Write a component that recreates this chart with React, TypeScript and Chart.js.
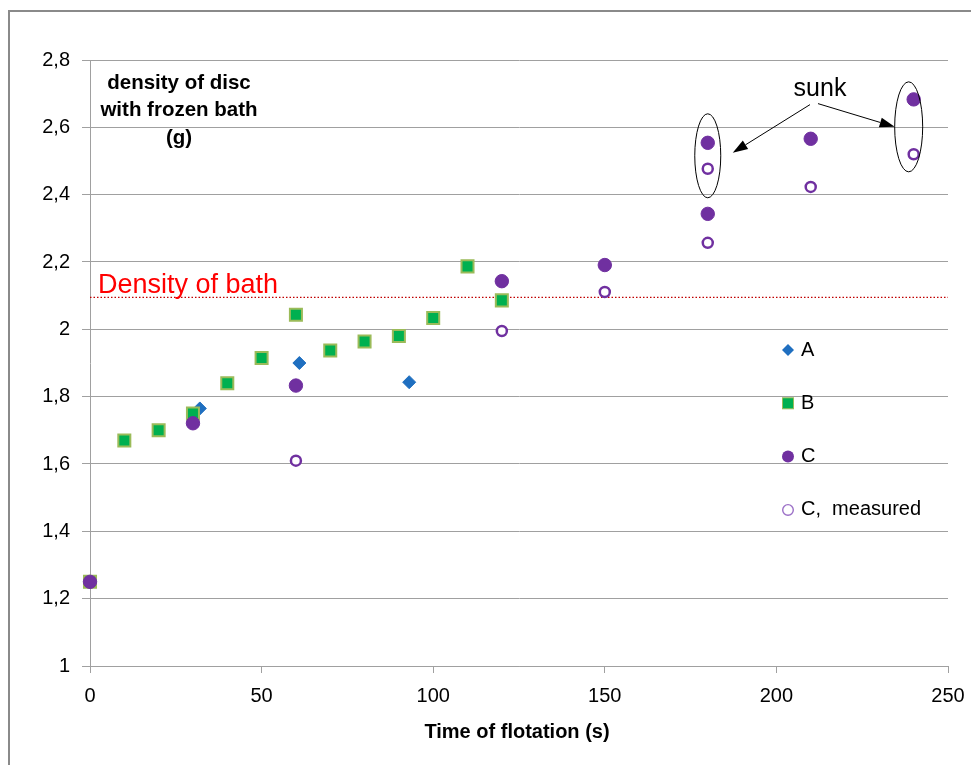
import React, { useEffect, useRef } from 'react';
import { Chart, registerables } from 'chart.js';

Chart.register(...registerables);

// ---- data ----
const timeA = [0, 32, 61, 93];
const densityA = [1.25, 1.765, 1.9, 1.843];

const timeB = [0, 10, 20, 30, 40, 50, 60, 70, 80, 90, 100, 110, 120];
const densityB = [1.25, 1.67, 1.7, 1.75, 1.84, 1.915, 2.043, 1.937, 1.964, 1.98, 2.034, 2.187, 2.086];

const timeC = [0, 30, 60, 120, 150, 180, 180, 210, 240];
const densityC = [1.25, 1.721, 1.833, 2.143, 2.191, 2.343, 2.554, 2.566, 2.683];

const timeCMeasured = [60, 120, 150, 180, 180, 210, 240];
const densityCMeasured = [1.61, 1.995, 2.111, 2.257, 2.477, 2.423, 2.52];

const bathDensity = 2.095;

const seriesLabels = ['A', 'B', 'C', 'C,  measured'];
const xTitle = 'Time of flotation (s)';
const yTitleLines = ['density of disc', 'with frozen bath', '(g)'];
const bathLabel = 'Density of bath';
const sunkLabel = 'sunk';
const sunkTimes = [180, 240];
const sunkLow = [2.477, 2.52];
const sunkHigh = [2.554, 2.683];
const sunkTextTime = 212.7;
const sunkTextDensity = 2.715;

const xMin = 0;
const xMax = 250;
const xStep = 50;
const yMin = 1;
const yMax = 2.8;
const yStep = 0.2;

const FONT = '"Liberation Sans", Arial, sans-serif';
const BLUE = '#1f6fc0';
const GREEN = '#00b050';
const OLIVE = '#9bbb59';
const PURPLE = '#7030a0';

function toPts(xs: number[], ys: number[]) {
  return xs.map((x, i) => ({ x, y: ys[i] }));
}

function drawArrow(ctx: CanvasRenderingContext2D, x1: number, y1: number, x2: number, y2: number) {
  const ang = Math.atan2(y2 - y1, x2 - x1);
  const len = 15;
  const hw = 5;
  const bx = x2 - len * Math.cos(ang);
  const by = y2 - len * Math.sin(ang);
  ctx.save();
  ctx.strokeStyle = '#000';
  ctx.fillStyle = '#000';
  ctx.lineWidth = 1;
  ctx.beginPath();
  ctx.moveTo(x1, y1);
  ctx.lineTo(bx, by);
  ctx.stroke();
  ctx.beginPath();
  ctx.moveTo(x2, y2);
  ctx.lineTo(bx + hw * Math.sin(ang), by - hw * Math.cos(ang));
  ctx.lineTo(bx - hw * Math.sin(ang), by + hw * Math.cos(ang));
  ctx.closePath();
  ctx.fill();
  ctx.restore();
}

const annotations = {
  id: 'annotations',
  beforeDraw(chart: any) {
    const ctx: CanvasRenderingContext2D = chart.ctx;
    ctx.save();
    ctx.fillStyle = '#ffffff';
    ctx.fillRect(0, 0, chart.width, chart.height);
    ctx.strokeStyle = '#8a8a8a';
    ctx.lineWidth = 2;
    ctx.beginPath();
    ctx.moveTo(9, chart.height + 5);
    ctx.lineTo(9, 11);
    ctx.lineTo(chart.width + 5, 11);
    ctx.stroke();
    ctx.restore();
  },
  beforeDatasetsDraw(chart: any) {
    const ctx: CanvasRenderingContext2D = chart.ctx;
    const { left, right } = chart.chartArea;
    const y = chart.scales.y.getPixelForValue(bathDensity);
    ctx.save();
    ctx.strokeStyle = '#c00000';
    ctx.lineWidth = 1.3;
    ctx.setLineDash([1.5, 2]);
    ctx.beginPath();
    ctx.moveTo(left, y);
    ctx.lineTo(right, y);
    ctx.stroke();
    ctx.restore();
  },
  afterDatasetsDraw(chart: any) {
    const ctx: CanvasRenderingContext2D = chart.ctx;
    const xs = chart.scales.x;
    const ys = chart.scales.y;
    const area = chart.chartArea;
    ctx.save();

    // bath label
    ctx.fillStyle = '#ff0000';
    ctx.font = `27px ${FONT}`;
    ctx.textAlign = 'left';
    ctx.textBaseline = 'alphabetic';
    ctx.fillText(bathLabel, area.left + 8, ys.getPixelForValue(bathDensity) - 4);

    // y title (inside plot)
    ctx.fillStyle = '#000';
    ctx.font = `bold 20.5px ${FONT}`;
    ctx.textAlign = 'center';
    ctx.textBaseline = 'middle';
    yTitleLines.forEach((t, i) => {
      ctx.fillText(t, area.left + 89, area.top + 23 + i * 27.5);
    });

    // x title
    ctx.font = `bold 20px ${FONT}`;
    ctx.fillText(xTitle, (area.left + area.right) / 2 - 2, 732);

    // sunk ellipses
    const ellR = [[13, 42], [14, 45]];
    const ellDx = [0, -5];
    const centers: { x: number; y: number }[] = [];
    sunkTimes.forEach((t, i) => {
      const cx = xs.getPixelForValue(t) + ellDx[i];
      const cy = (ys.getPixelForValue(sunkLow[i]) + ys.getPixelForValue(sunkHigh[i])) / 2;
      centers.push({ x: cx, y: cy });
      ctx.strokeStyle = '#000';
      ctx.lineWidth = 1;
      ctx.beginPath();
      ctx.ellipse(cx, cy, ellR[i][0], ellR[i][1], 0, 0, Math.PI * 2);
      ctx.stroke();
    });

    // sunk text
    const tx = xs.getPixelForValue(sunkTextTime);
    const ty = ys.getPixelForValue(sunkTextDensity);
    ctx.fillStyle = '#000';
    ctx.font = `25px ${FONT}`;
    ctx.textAlign = 'center';
    ctx.textBaseline = 'middle';
    ctx.fillText(sunkLabel, tx, ty);
    drawArrow(ctx, tx - 10, ty + 16, centers[0].x + 25, centers[0].y - 3);
    drawArrow(ctx, tx - 2, ty + 15, centers[1].x - 14, centers[1].y);

    // legend
    const lx = area.left + 698;
    const ly0 = area.top + 290;
    const dy = 53.3;
    ctx.font = `20px ${FONT}`;
    ctx.textAlign = 'left';
    ctx.textBaseline = 'middle';
    seriesLabels.forEach((lab, i) => {
      const y = ly0 + i * dy;
      ctx.save();
      if (i === 0) {
        ctx.fillStyle = BLUE;
        ctx.beginPath();
        ctx.moveTo(lx - 6, y);
        ctx.lineTo(lx, y - 6);
        ctx.lineTo(lx + 6, y);
        ctx.lineTo(lx, y + 6);
        ctx.closePath();
        ctx.fill();
      } else if (i === 1) {
        ctx.fillStyle = GREEN;
        ctx.fillRect(lx - 5.5, y - 5.5, 11, 11);
        ctx.strokeStyle = OLIVE;
        ctx.lineWidth = 1;
        ctx.strokeRect(lx - 5.5, y - 5.5, 11, 11);
      } else if (i === 2) {
        ctx.fillStyle = PURPLE;
        ctx.beginPath();
        ctx.arc(lx, y, 6, 0, Math.PI * 2);
        ctx.fill();
      } else {
        ctx.strokeStyle = '#9b6fc7';
        ctx.lineWidth = 1.4;
        ctx.beginPath();
        ctx.arc(lx, y, 5.3, 0, Math.PI * 2);
        ctx.stroke();
      }
      ctx.restore();
      ctx.fillStyle = '#000';
      ctx.fillText(lab, lx + 13, y);
    });

    ctx.restore();
  },
};

export default function App() {
  const ref = useRef<HTMLCanvasElement>(null);

  useEffect(() => {
    const canvas = ref.current;
    if (!canvas) return;
    const chart = new Chart(canvas, {
      type: 'scatter',
      data: {
        datasets: [
          {
            label: seriesLabels[0],
            data: toPts(timeA, densityA),
            pointStyle: 'rectRot',
            pointRadius: 6.5,
            backgroundColor: BLUE,
            borderColor: BLUE,
            borderWidth: 1,
            order: 4,
            clip: false,
          },
          {
            label: seriesLabels[1],
            data: toPts(timeB, densityB),
            pointStyle: 'rect',
            pointRadius: 8.5,
            backgroundColor: GREEN,
            borderColor: OLIVE,
            borderWidth: 2,
            order: 3,
            clip: false,
          },
          {
            label: seriesLabels[2],
            data: toPts(timeC, densityC),
            pointStyle: 'circle',
            pointRadius: 6.7,
            backgroundColor: PURPLE,
            borderColor: PURPLE,
            borderWidth: 1,
            order: 2,
            clip: false,
          },
          {
            label: seriesLabels[3],
            data: toPts(timeCMeasured, densityCMeasured),
            pointStyle: 'circle',
            pointRadius: 5,
            backgroundColor: '#ffffff',
            borderColor: PURPLE,
            borderWidth: 2.5,
            order: 1,
            clip: false,
          },
        ] as any,
      },
      options: {
        responsive: false,
        animation: false,
        events: [],
        layout: { padding: { top: 60, right: 23, left: 0, bottom: 0 } },
        plugins: {
          legend: { display: false },
          tooltip: { enabled: false },
          title: { display: false },
        },
        scales: {
          x: {
            type: 'linear',
            min: xMin,
            max: xMax,
            afterFit: (s: any) => {
              s.height = 99;
              s.paddingRight = 0;
              s.paddingLeft = 0;
            },
            ticks: {
              stepSize: xStep,
              maxRotation: 0,
              padding: 11,
              color: '#000',
              font: { family: FONT, size: 20 },
            },
            grid: {
              drawOnChartArea: false,
              drawTicks: true,
              tickLength: 7,
              color: '#a0a0a0',
              tickColor: '#a0a0a0',
            },
            border: { display: true, color: '#a0a0a0', width: 1 },
          },
          y: {
            type: 'linear',
            min: yMin,
            max: yMax,
            afterFit: (s: any) => {
              s.width = 90;
              s.paddingTop = 0;
              s.paddingBottom = 0;
            },
            ticks: {
              stepSize: yStep,
              padding: 12,
              color: '#000',
              font: { family: FONT, size: 20 },
              callback: (v: any) => String(Math.round(Number(v) * 10) / 10).replace('.', ','),
            },
            grid: {
              drawOnChartArea: true,
              drawTicks: true,
              tickLength: 8,
              color: '#a0a0a0',
              tickColor: '#a0a0a0',
              lineWidth: 1,
            },
            border: { display: true, color: '#a0a0a0', width: 1 },
          },
        },
      } as any,
      plugins: [annotations],
    });
    return () => chart.destroy();
  }, []);

  return (
    <div style={{ position: 'fixed', left: 0, top: 0, width: 971, height: 765, background: '#fff' }}>
      <canvas ref={ref} width={971} height={765} style={{ display: 'block' }} />
    </div>
  );
}
